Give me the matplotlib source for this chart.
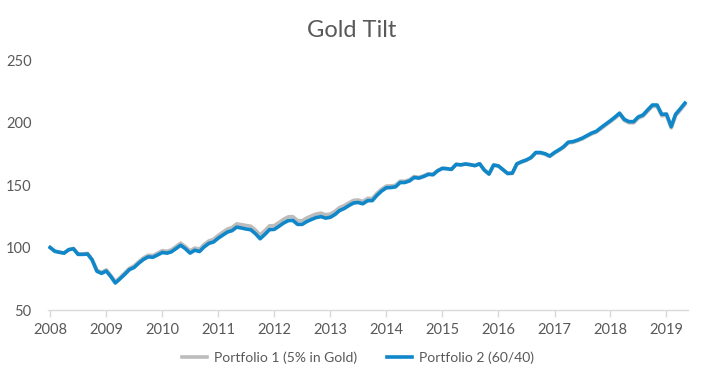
import matplotlib
matplotlib.use("Agg")
import matplotlib.dates as mdates
import matplotlib.pyplot as plt
import pandas as pd

# monthly index values, Jan 2008 .. May 2019
START_MONTH = "2008-01-01"
GOLD_TILT = [
    100.0, 97.0, 96.2, 95.6, 98.4, 99.3, 94.8, 94.9, 95.3, 90.5,
    81.8, 80.1, 82.1, 77.4, 72.6, 76.0, 79.6, 83.4, 85.2, 88.7,
    91.8, 93.8, 93.6, 95.4, 97.5, 97.0, 98.1, 100.8, 103.5, 100.7,
    97.3, 99.6, 98.7, 102.4, 105.3, 106.5, 109.7, 112.3, 114.7, 116.0,
    118.9, 118.3, 117.6, 117.0, 113.9, 110.0, 113.5, 117.3, 117.5, 120.0,
    122.5, 124.5, 124.7, 121.5, 121.4, 123.7, 125.4, 126.8, 127.5, 126.2,
    126.8, 129.0, 131.9, 133.5, 135.7, 137.7, 138.0, 136.9, 139.3, 139.2,
    143.4, 146.7, 149.2, 149.3, 149.7, 153.1, 153.0, 154.2, 156.8, 156.2,
    157.4, 159.0, 158.6, 161.6, 163.5, 163.1, 162.6, 166.6, 166.1, 166.8,
    166.3, 165.5, 167.0, 162.0, 158.7, 165.9, 165.2, 162.0, 159.1, 159.3,
    166.8, 168.4, 169.7, 171.7, 175.6, 175.6, 174.6, 172.8, 175.5, 177.8,
    180.1, 183.7, 184.1, 185.4, 186.9, 189.0, 190.9, 192.3, 195.2, 197.9,
    200.7, 203.6, 206.6, 201.6, 199.8, 199.8, 203.5, 205.0, 209.1, 212.9,
    212.9, 205.4, 205.7, 195.7, 205.4, 209.9, 214.4,
]
SIXTY_FORTY = [
    100.0, 97.0, 96.2, 95.5, 98.2, 99.0, 94.5, 94.5, 94.8, 90.0,
    81.0, 79.3, 81.2, 76.5, 71.6, 75.0, 78.5, 82.3, 84.0, 87.5,
    90.5, 92.5, 92.2, 94.0, 96.0, 95.5, 96.5, 99.2, 101.8, 99.0,
    95.5, 97.8, 96.8, 100.5, 103.3, 104.4, 107.5, 110.0, 112.3, 113.5,
    116.3, 115.6, 114.8, 114.2, 111.0, 107.0, 110.5, 114.3, 114.5, 117.0,
    119.5, 121.5, 121.7, 118.5, 118.5, 120.8, 122.5, 124.0, 124.7, 123.5,
    124.2, 126.5, 129.5, 131.2, 133.5, 135.6, 136.0, 135.0, 137.5, 137.5,
    141.8, 145.2, 147.8, 148.0, 148.5, 152.0, 152.0, 153.3, 156.0, 155.5,
    156.8, 158.5, 158.2, 161.3, 163.3, 163.0, 162.5, 166.5, 166.1, 166.8,
    166.3, 165.5, 167.0, 162.0, 158.8, 166.0, 165.3, 162.2, 159.3, 159.5,
    167.0, 168.7, 170.0, 172.0, 176.0, 176.0, 175.0, 173.2, 176.0, 178.3,
    180.6, 184.3, 184.7, 186.0, 187.5, 189.6, 191.6, 193.0, 196.0, 198.7,
    201.5, 204.5, 207.5, 202.5, 200.7, 200.7, 204.5, 206.0, 210.2, 214.0,
    214.0, 206.5, 206.8, 196.7, 206.5, 211.0, 215.5,
]
SERIES_NAMES = ["Portfolio 1 (5% in Gold)", "Portfolio 2 (60/40)"]
Y_TICKS = [50, 100, 150, 200, 250]

INK = "#595959"
AXIS = "#d9d9d9"
GREY_LINE = "#bcbcbc"
BLUE_LINE = "#0f87c9"

plt.rcParams["font.family"] = ["Lato", "DejaVu Sans"]

dates = pd.date_range(START_MONTH, periods=len(SIXTY_FORTY), freq="MS")

fig = plt.figure(figsize=(7.04, 3.83), dpi=100)
ax = fig.add_axes([0.0686, 0.1906, 0.9084, 0.6527])

ax.plot(dates, GOLD_TILT, color=GREY_LINE, linewidth=2.6, label=SERIES_NAMES[0],
        solid_joinstyle="round", zorder=2)
ax.plot(dates, SIXTY_FORTY, color=BLUE_LINE, linewidth=2.6, label=SERIES_NAMES[1],
        solid_joinstyle="round", zorder=3)

ax.set_ylim(50, 250)
ax.set_yticks(Y_TICKS)
ax.set_xlim(pd.Timestamp("2007-12-20"), pd.Timestamp("2019-05-20"))
ax.xaxis.set_major_locator(mdates.YearLocator())
ax.xaxis.set_major_formatter(mdates.DateFormatter("%Y"))

for side in ["top", "right", "left"]:
    ax.spines[side].set_visible(False)
ax.spines["bottom"].set_color(AXIS)
ax.spines["bottom"].set_linewidth(1.0)
ax.tick_params(axis="x", colors=AXIS, length=5, width=1.0, labelcolor=INK,
               labelsize=10.5, pad=4)
ax.tick_params(axis="y", length=0, labelcolor=INK, labelsize=10.5, pad=12)

fig.suptitle("Gold Tilt", x=0.5, y=0.948, fontsize=17, color=INK)

fig.legend(loc="center", bbox_to_anchor=(358 / 704, 1 - 358 / 383), ncol=2,
           frameon=False, fontsize=10, labelcolor=INK, handlelength=1.8,
           columnspacing=2.2, handletextpad=0.5)

fig.savefig("out.png", dpi=100, facecolor="white")
